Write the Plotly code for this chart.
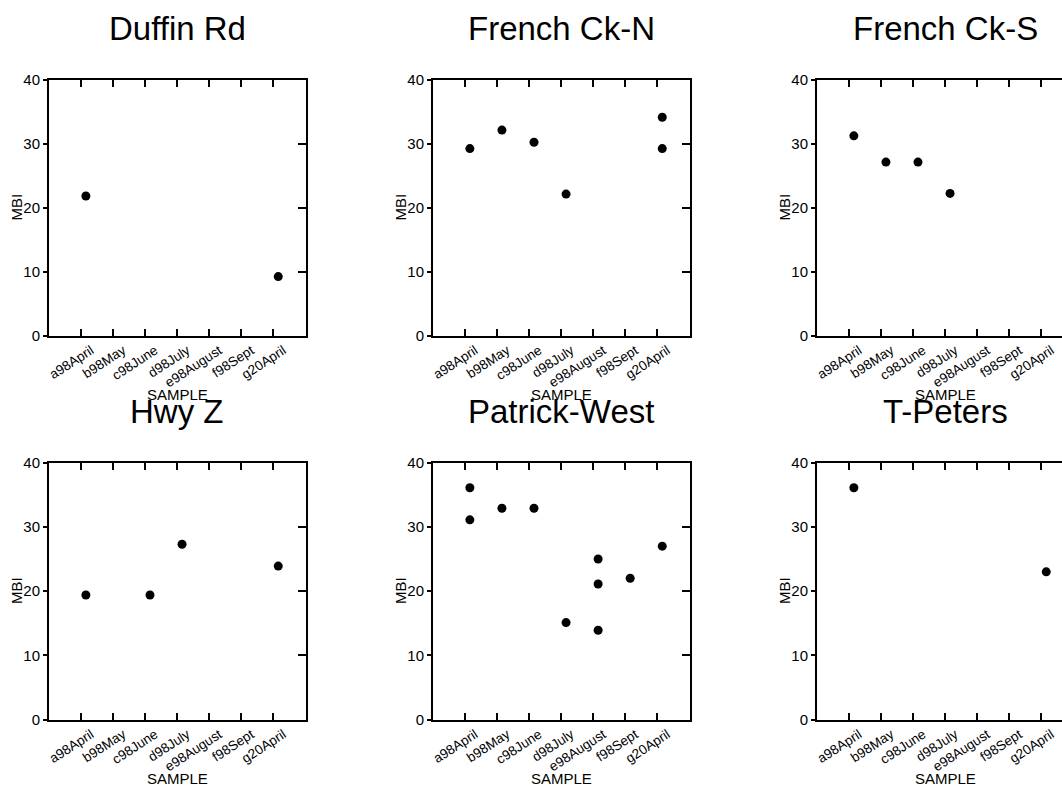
import plotly.graph_objects as go

# Sampling events along the x axis
categories = ["a98April", "b98May", "c98June", "d98July",
              "e98August", "f98Sept", "g20April"]

# MBI scores per site
duffin_samples = ["a98April", "g20April"]
duffin_mbi = [21.8, 9.2]

french_n_samples = ["a98April", "b98May", "c98June", "d98July", "g20April", "g20April"]
french_n_mbi = [29.2, 32.1, 30.2, 22.1, 34.1, 29.2]

french_s_samples = ["a98April", "b98May", "c98June", "d98July"]
french_s_mbi = [31.2, 27.1, 27.1, 22.2]

hwyz_samples = ["a98April", "c98June", "d98July", "g20April"]
hwyz_mbi = [19.4, 19.4, 27.3, 23.9]

patrick_samples = ["a98April", "a98April", "b98May", "c98June", "d98July",
                   "e98August", "e98August", "e98August", "f98Sept", "g20April"]
patrick_mbi = [36.1, 31.1, 32.9, 32.9, 15.1, 25.0, 21.1, 13.9, 22.0, 27.0]

tpeters_samples = ["a98April", "g20April"]
tpeters_mbi = [36.1, 23.0]

site_names = ["Duffin Rd", "French Ck-N", "French Ck-S",
              "Hwy Z", "Patrick-West", "T-Peters"]
site_samples = [duffin_samples, french_n_samples, french_s_samples,
                hwyz_samples, patrick_samples, tpeters_samples]
site_mbi = [duffin_mbi, french_n_mbi, french_s_mbi,
            hwyz_mbi, patrick_mbi, tpeters_mbi]

y_ticks = [0, 10, 20, 30, 40]

# ---- layout geometry (pixels on a 1062 x 786 canvas) ----
W, H = 1062, 786
FONT = "Liberation Sans, Arial, sans-serif"
X_SHIFT = 0.15          # markers sit slightly right of their category tick
col_px = [(49, 305.5), (433, 689.5), (817, 1062)]
row_px = [(79.5, 335.5), (462.7, 719.5)]
unit_px = (305.5 - 49) / 8.0
full_w = 256.5

fig = go.Figure()
layout = dict(
    width=W, height=H,
    margin=dict(l=0, r=0, t=0, b=0, pad=0, autoexpand=False),
    paper_bgcolor="white", plot_bgcolor="white",
    showlegend=False,
    font=dict(family=FONT, color="black"),
    annotations=[],
)

for k in range(6):
    r, c = divmod(k, 3)
    n = k + 1
    xname = "x" if n == 1 else f"x{n}"
    yname = "y" if n == 1 else f"y{n}"
    xkey = "xaxis" if n == 1 else f"xaxis{n}"
    ykey = "yaxis" if n == 1 else f"yaxis{n}"
    full_frame = c < 2   # the right column runs off the page edge

    x0, x1 = col_px[c]
    top, bot = row_px[r]
    xdom = [x0 / W, x1 / W]
    ydom = [1 - bot / H, 1 - top / H]
    x_hi = -1 + (x1 - x0) / unit_px

    xs = [categories.index(s) + X_SHIFT for s in site_samples[k]]
    fig.add_trace(go.Scatter(
        x=xs, y=site_mbi[k], mode="markers",
        marker=dict(size=9, color="black"),
        xaxis=xname, yaxis=yname, hoverinfo="x+y",
    ))

    layout[xkey] = dict(
        domain=xdom, anchor=yname, range=[-1, x_hi],
        tickmode="array", tickvals=list(range(len(categories))),
        ticktext=categories, tickangle=-33, ticklabelshift=10,
        tickfont=dict(family=FONT, size=13.5, color="black"),
        ticks="inside", ticklen=7, tickwidth=2, tickcolor="black",
        showline=True, linewidth=2, linecolor="black", mirror="ticks",
        showgrid=False, zeroline=False, automargin=False,
    )
    layout[ykey] = dict(
        domain=ydom, anchor=xname, range=[0, 40],
        tickmode="array", tickvals=y_ticks,
        tickfont=dict(family=FONT, size=15, color="black"),
        ticks="outside", ticklen=4, tickwidth=2, tickcolor="black",
        showline=True, linewidth=2, linecolor="black", mirror=full_frame,
        showgrid=False, zeroline=False, automargin=False,
    )

    # inward ticks along the right-hand frame
    if full_frame:
        rn = 6 + n
        layout[f"yaxis{rn}"] = dict(
            overlaying=yname, anchor=xname, side="right", range=[0, 40],
            tickmode="array", tickvals=y_ticks, showticklabels=False,
            ticks="inside", ticklen=8, tickwidth=2, tickcolor="black",
            showline=False, showgrid=False, zeroline=False, automargin=False,
        )
        fig.add_trace(go.Scatter(
            x=[], y=[], mode="markers", xaxis=xname, yaxis=f"y{rn}",
            hoverinfo="skip", showlegend=False,
        ))

    ph = bot - top
    pw = x1 - x0
    layout["annotations"] += [
        dict(text=site_names[k], xref=f"{xname} domain", yref=f"{yname} domain",
             x=0.5 * full_w / pw, y=1 + 51.5 / ph,
             xanchor="center", yanchor="middle", showarrow=False,
             font=dict(family=FONT, size=33, color="black")),
        dict(text="SAMPLE", xref=f"{xname} domain", yref=f"{yname} domain",
             x=0.5 * full_w / pw, y=-59 / ph,
             xanchor="center", yanchor="middle", showarrow=False,
             font=dict(family=FONT, size=15, color="black")),
        dict(text="MBI", xref=f"{xname} domain", yref=f"{yname} domain",
             x=-33 / pw, y=0.5, textangle=-90,
             xanchor="center", yanchor="middle", showarrow=False,
             font=dict(family=FONT, size=15, color="black")),
    ]

fig.update_layout(**layout)
fig.write_html(
    "out.html",
    post_script="document.body.style.margin='0';document.body.style.padding='0';",
)
